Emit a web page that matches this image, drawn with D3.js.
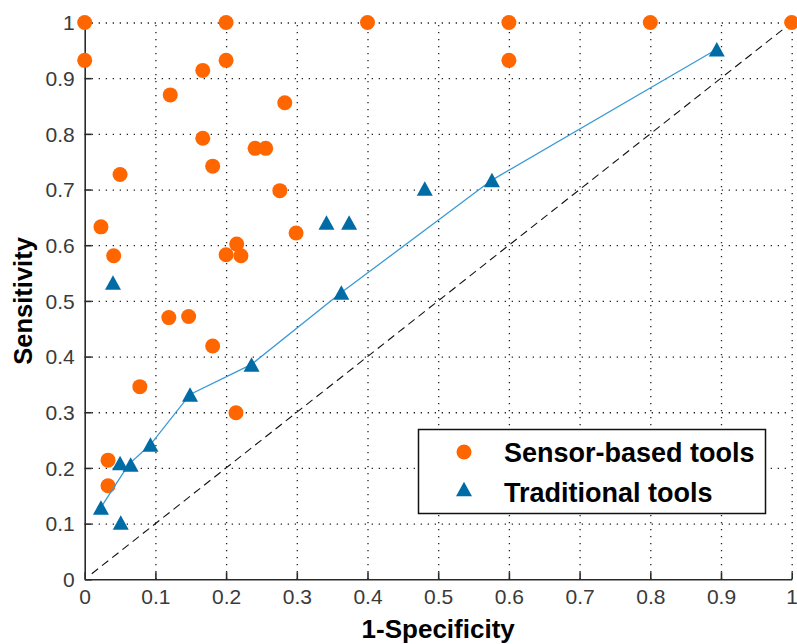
<!DOCTYPE html>
<html>
<head>
<meta charset="utf-8">
<script src="https://cdn.jsdelivr.net/npm/d3@7"></script>
<style>
  html, body { margin: 0; padding: 0; background: #fff; }
  svg { display: block; font-family: Arial, "Liberation Sans", sans-serif; }
</style>
</head>
<body>
<svg id="chart" width="797" height="644"></svg>
<script>
// ---- data ----
const sensorX = [0.000, 0.000, 0.200, 0.200, 0.167, 0.121, 0.283, 0.167, 0.241, 0.256,
                 0.181, 0.050, 0.276, 0.023, 0.299, 0.215, 0.200, 0.221, 0.041, 0.400,
                 0.600, 0.800, 1.000, 0.600, 0.119, 0.147, 0.181, 0.078, 0.214, 0.033, 0.033];
const sensorY = [1.000, 0.932, 1.000, 0.932, 0.914, 0.870, 0.856, 0.792, 0.774, 0.774,
                 0.742, 0.727, 0.698, 0.633, 0.622, 0.602, 0.583, 0.581, 0.581, 1.000,
                 1.000, 1.000, 1.000, 0.932, 0.470, 0.472, 0.419, 0.346, 0.299, 0.214, 0.168];
const tradX = [0.342, 0.374, 0.040, 0.363, 0.894, 0.481, 0.576, 0.236, 0.149, 0.093, 0.050, 0.065, 0.023, 0.051];
const tradY = [0.641, 0.641, 0.533, 0.515, 0.952, 0.702, 0.717, 0.386, 0.332, 0.242, 0.209, 0.206, 0.129, 0.102];
const curveX = [0.023, 0.062, 0.093, 0.149, 0.236, 0.363, 0.576, 0.894];
const curveY = [0.129, 0.206, 0.242, 0.332, 0.386, 0.515, 0.717, 0.952];
const diagX = [0.01, 1.0];
const diagY = [0.01, 1.0];
const xTicks = [0, 0.1, 0.2, 0.3, 0.4, 0.5, 0.6, 0.7, 0.8, 0.9, 1];
const xTickLabels = ["0", "0.1", "0.2", "0.3", "0.4", "0.5", "0.6", "0.7", "0.8", "0.9", "1"];
const yTicks = [0, 0.1, 0.2, 0.3, 0.4, 0.5, 0.6, 0.7, 0.8, 0.9, 1];
const yTickLabels = ["0", "0.1", "0.2", "0.3", "0.4", "0.5", "0.6", "0.7", "0.8", "0.9", "1"];
const seriesNames = ["Sensor-based tools", "Traditional tools"];
const xLabel = "1-Specificity";
const yLabel = "Sensitivity";

// ---- layout ----
const L = 84.7, R = 791.7, T = 22.5, B = 579.3;
const ORANGE = "#ff6600", BLUE = "#006ca5", LINEBLUE = "#3a9ad6";

const svg = d3.select("#chart");
const x = d3.scaleLinear().domain([0, 1]).range([L, R]);
const y = d3.scaleLinear().domain([0, 1]).range([B, T]);

// grid (dotted)
const grid = svg.append("g");
grid.append("g").attr("transform", `translate(0,${B})`)
  .call(d3.axisBottom(x).tickValues(xTicks.slice(1)).tickSize(-(B - T)).tickFormat(""))
  .call(g => g.select(".domain").remove())
  .call(g => g.selectAll("line").attr("stroke", "#222").attr("stroke-width", 1.3).attr("stroke-dasharray", "1.3,5.7"));
grid.append("g").attr("transform", `translate(${L},0)`)
  .call(d3.axisLeft(y).tickValues(yTicks.slice(1)).tickSize(-(R - L)).tickFormat(""))
  .call(g => g.select(".domain").remove())
  .call(g => g.selectAll("line").attr("stroke", "#222").attr("stroke-width", 1.3).attr("stroke-dasharray", "1.3,5.7"));

// axes
const xAxis = svg.append("g").attr("transform", `translate(0,${B})`)
  .call(d3.axisBottom(x).tickValues(xTicks).tickSize(-7).tickSizeOuter(0).tickPadding(10)
    .tickFormat((d, i) => xTickLabels[i]));
const yAxis = svg.append("g").attr("transform", `translate(${L},0)`)
  .call(d3.axisLeft(y).tickValues(yTicks).tickSize(-7).tickSizeOuter(0).tickPadding(10)
    .tickFormat((d, i) => yTickLabels[i]));
[xAxis, yAxis].forEach(a => {
  a.select(".domain").attr("stroke", "#2a2a2a").attr("stroke-width", 1.6);
  a.selectAll(".tick line").attr("stroke", "#2a2a2a").attr("stroke-width", 1.6);
  a.selectAll(".tick text").attr("fill", "#3a3a3a")
    .style("font-family", "Arial, 'Liberation Sans', sans-serif").style("font-size", "21px");
});
yAxis.selectAll(".tick text").attr("dy", "0.35em");

// diagonal reference line
svg.append("line")
  .attr("x1", x(diagX[0])).attr("y1", y(diagY[0]))
  .attr("x2", x(diagX[1])).attr("y2", y(diagY[1]))
  .attr("stroke", "#111").attr("stroke-width", 1.1).attr("stroke-dasharray", "8,5");

// sensor-based points
svg.append("g").selectAll("circle").data(sensorX).join("circle")
  .attr("cx", (d) => x(d)).attr("cy", (d, i) => y(sensorY[i])).attr("r", 7.5)
  .attr("fill", ORANGE);

// traditional curve
const curvePts = curveX.map((d, i) => [d, curveY[i]]);
svg.append("path").datum(curvePts)
  .attr("d", d3.line().x(d => x(d[0])).y(d => y(d[1])))
  .attr("fill", "none").attr("stroke", LINEBLUE).attr("stroke-width", 1.3);

// traditional triangles
function tri(cx, cy, w = 16, h = 14.5) {
  return `M${cx},${cy - h / 2}L${cx + w / 2},${cy + h / 2}L${cx - w / 2},${cy + h / 2}Z`;
}
svg.append("g").selectAll("path").data(tradX).join("path")
  .attr("d", (d, i) => tri(x(d), y(tradY[i])))
  .attr("fill", BLUE);

// axis labels
svg.append("text").attr("x", (L + R) / 2).attr("y", 638)
  .attr("text-anchor", "middle").attr("font-weight", "bold").attr("font-size", 26)
  .attr("fill", "#000").text(xLabel);
svg.append("text").attr("transform", `translate(32,${(T + B) / 2}) rotate(-90)`)
  .attr("text-anchor", "middle").attr("font-weight", "bold").attr("font-size", 25.5)
  .attr("fill", "#000").text(yLabel);

// legend
const lg = svg.append("g");
lg.append("rect").attr("x", 418.5).attr("y", 429.5).attr("width", 347).attr("height", 84)
  .attr("fill", "#fff").attr("stroke", "#111").attr("stroke-width", 1.5);
lg.append("circle").attr("cx", 464).attr("cy", 452).attr("r", 7.5).attr("fill", ORANGE);
lg.append("path").attr("d", tri(464, 489)).attr("fill", BLUE);
lg.append("text").attr("x", 504).attr("y", 461.5).attr("font-size", 27).attr("font-weight", "bold")
  .attr("fill", "#000").text(seriesNames[0]);
lg.append("text").attr("x", 504).attr("y", 502).attr("font-size", 27).attr("font-weight", "bold")
  .attr("fill", "#000").text(seriesNames[1]);
</script>
</body>
</html>
